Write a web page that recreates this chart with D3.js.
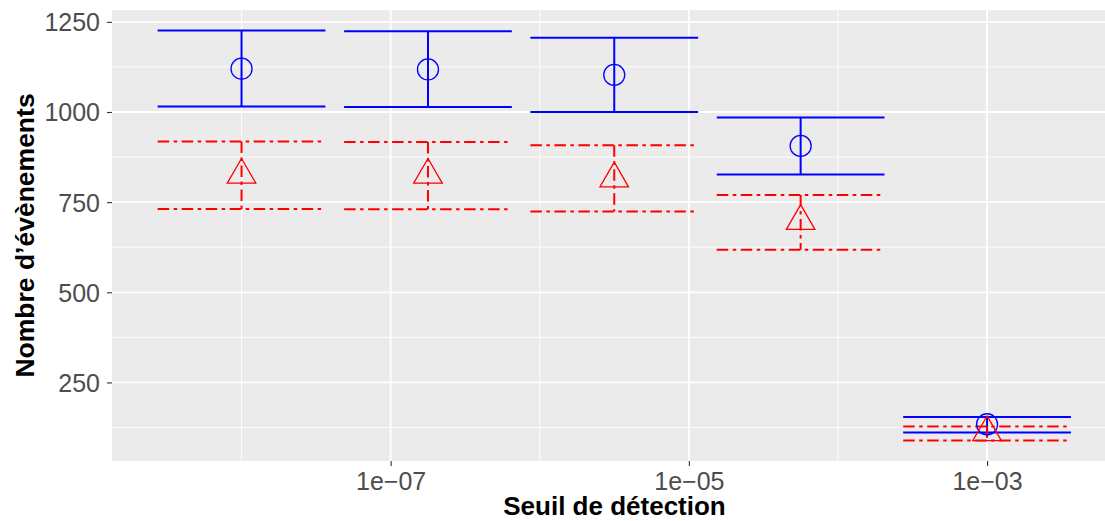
<!DOCTYPE html>
<html>
<head>
<meta charset="utf-8">
<script src="https://cdn.jsdelivr.net/npm/d3@7"></script>
<style>
  body { margin: 0; background: #fff; }
  svg { display: block; font-family: "Liberation Sans", Arial, sans-serif; }
</style>
</head>
<body>
<div id="chart"></div>
<script>
// seuils (x), one per group
const seuils = [1e-8, 1.78e-7, 3.16e-6, 5.62e-5, 1e-3];

// série bleue (cercles)
const bleuMoy = [1120, 1118, 1103, 906, 134];
const bleuBas = [1015, 1014, 1000, 827, 111];
const bleuHaut = [1226, 1224, 1206, 985, 154];

// série rouge (triangles)
const rougeMoy = [824, 824, 814, 696, 110];
const rougeBas = [731, 730, 724, 618, 89];
const rougeHaut = [918, 917, 908, 770, 128];

const xTicks = [1e-7, 1e-5, 1e-3];
const xTickLabels = ["1e\u221207", "1e\u221205", "1e\u221203"];
const xMinor = [1e-8, 1e-6, 1e-4, 1e-2];
const yTicks = [250, 500, 750, 1000, 1250];
const yMinor = [125, 375, 625, 875, 1125];

const W = 1105, H = 521;
const panel = { left: 112, top: 10, right: 1116.6, bottom: 461 };
const demiLargeur = 0.5625; // half errorbar width, in decades

const blue = "#0000FF", red = "#FF0000";

const svg = d3.select("#chart").append("svg")
    .attr("width", W)
    .attr("height", H);

// x domain: errorbar extents in log space, expanded 5%
const lx0 = Math.log10(d3.min(seuils)) - demiLargeur;
const lx1 = Math.log10(d3.max(seuils)) + demiLargeur;
const ex = (lx1 - lx0) * 0.05;
const x = d3.scaleLog()
    .domain([Math.pow(10, lx0 - ex), Math.pow(10, lx1 + ex)])
    .range([panel.left, panel.right]);

const yLo = d3.min(rougeBas.concat(bleuBas));
const yHi = d3.max(bleuHaut.concat(rougeHaut));
const ey = (yHi - yLo) * 0.05;
const y = d3.scaleLinear()
    .domain([yLo - ey, yHi + ey])
    .range([panel.bottom, panel.top]);

svg.append("clipPath").attr("id", "clip")
    .append("rect")
    .attr("x", panel.left).attr("y", panel.top)
    .attr("width", panel.right - panel.left)
    .attr("height", panel.bottom - panel.top);

const g = svg.append("g").attr("clip-path", "url(#clip)");

g.append("rect")
    .attr("x", panel.left).attr("y", panel.top)
    .attr("width", panel.right - panel.left)
    .attr("height", panel.bottom - panel.top)
    .attr("fill", "#EBEBEB");

// grid
g.selectAll(".ymin").data(yMinor).enter().append("line")
    .attr("x1", panel.left).attr("x2", panel.right)
    .attr("y1", d => y(d)).attr("y2", d => y(d))
    .attr("stroke", "#fff").attr("stroke-width", 0.9);
g.selectAll(".xmin").data(xMinor).enter().append("line")
    .attr("y1", panel.top).attr("y2", panel.bottom)
    .attr("x1", d => x(d)).attr("x2", d => x(d))
    .attr("stroke", "#fff").attr("stroke-width", 0.9);
g.selectAll(".ymaj").data(yTicks).enter().append("line")
    .attr("x1", panel.left).attr("x2", panel.right)
    .attr("y1", d => y(d)).attr("y2", d => y(d))
    .attr("stroke", "#fff").attr("stroke-width", 1.8);
g.selectAll(".xmaj").data(xTicks).enter().append("line")
    .attr("y1", panel.top).attr("y2", panel.bottom)
    .attr("x1", d => x(d)).attr("x2", d => x(d))
    .attr("stroke", "#fff").attr("stroke-width", 1.8);

function barres(moy, bas, haut, color, dash) {
    const data = seuils.map((s, i) => ({ s: s, m: moy[i], lo: bas[i], hi: haut[i] }));
    const xl = d => x(Math.pow(10, Math.log10(d.s) - demiLargeur));
    const xr = d => x(Math.pow(10, Math.log10(d.s) + demiLargeur));
    const eb = g.append("g")
        .attr("fill", "none")
        .attr("stroke", color)
        .attr("stroke-width", 2)
        .attr("stroke-dasharray", dash);
    eb.selectAll(".top").data(data).enter().append("path")
        .attr("d", d => `M${xl(d)},${y(d.hi)}H${xr(d)}`);
    eb.selectAll(".mid").data(data).enter().append("path")
        .attr("d", d => `M${x(d.s)},${y(d.hi)}V${y(d.lo)}`);
    eb.selectAll(".bot").data(data).enter().append("path")
        .attr("d", d => `M${xl(d)},${y(d.lo)}H${xr(d)}`);
    return data;
}

const dBleu = barres(bleuMoy, bleuBas, bleuHaut, blue, null);
const dRouge = barres(rougeMoy, rougeBas, rougeHaut, red, "11.5 4.5 3.5 4.5");

g.selectAll(".circ").data(dBleu).enter().append("circle")
    .attr("cx", d => x(d.s)).attr("cy", d => y(d.m))
    .attr("r", 10.5)
    .attr("fill", "none").attr("stroke", blue).attr("stroke-width", 1.3);

g.selectAll(".tri").data(dRouge).enter().append("path")
    .attr("transform", d => `translate(${x(d.s)},${y(d.m) - 0.5})`)
    .attr("d", () => {
        const r = 16.5, w = r * Math.sqrt(3) / 2;
        return `M0,${-r}L${w},${r / 2}L${-w},${r / 2}Z`;
    })
    .attr("fill", "none").attr("stroke", red).attr("stroke-width", 1.3);

// axes
const xAxis = svg.append("g")
    .attr("transform", `translate(0,${panel.bottom})`)
    .call(d3.axisBottom(x).tickValues(xTicks)
        .tickFormat((d, i) => xTickLabels[i])
        .tickSize(5).tickPadding(6.5));

const yAxis = svg.append("g")
    .attr("transform", `translate(${panel.left},0)`)
    .call(d3.axisLeft(y).tickValues(yTicks).tickFormat(d3.format("d"))
        .tickSize(5).tickPadding(7));

[xAxis, yAxis].forEach(a => {
    a.select(".domain").remove();
    a.selectAll(".tick line").attr("stroke", "#333333").attr("stroke-width", 1.1);
    a.selectAll(".tick text")
        .attr("fill", "#4D4D4D")
        .style("font-size", "25px")
        .style("font-family", "'Liberation Sans', Arial, sans-serif");
});
yAxis.selectAll(".tick text").attr("dy", "0.36em");

svg.append("text")
    .attr("x", (panel.left + Math.min(panel.right, W)) / 2 + 6)
    .attr("y", 515)
    .attr("text-anchor", "middle")
    .style("font-size", "26px")
    .style("font-weight", "bold")
    .text("Seuil de détection");

svg.append("text")
    .attr("transform", `translate(33.5,${(panel.top + panel.bottom) / 2}) rotate(-90)`)
    .attr("text-anchor", "middle")
    .style("font-size", "26.5px")
    .style("font-weight", "bold")
    .text("Nombre d\u2019évènements");
</script>
</body>
</html>
